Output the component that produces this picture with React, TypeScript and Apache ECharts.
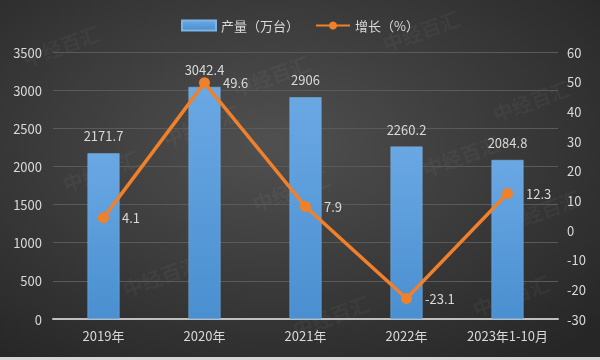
import React, { useEffect, useRef } from "react";
import * as echarts from "echarts";

const categories = ["2019年", "2020年", "2021年", "2022年", "2023年1-10月"];
const production = [2171.7, 3042.4, 2906, 2260.2, 2084.8];
const growth = [4.1, 49.6, 7.9, -23.1, 12.3];
const legendNames = ["产量（万台）", "增长（%）"];

const watermarks: [number, number][] = [
  [20, 50], [230, 80], [380, 35], [500, 215], [60, 175], [250, 195],
  [420, 160], [120, 280], [290, 320], [470, 300], [490, 105], [160, 130],
];

export default function App() {
  const ref = useRef<HTMLDivElement>(null);
  useEffect(() => {
    if (!ref.current) return;
    const chart = echarts.init(ref.current, undefined, { renderer: "svg" });
    const font = "'Microsoft YaHei', 'Noto Sans CJK SC', sans-serif";
    const textColor = "#d9d9d9";
    chart.setOption({
      animation: false,
      backgroundColor: {
        type: "radial",
        x: 0.45,
        y: 0.4,
        r: 0.75,
        colorStops: [
          { offset: 0, color: "#505050" },
          { offset: 1, color: "#262626" },
        ],
      },
      textStyle: { fontFamily: font },
      graphic: [
        ...watermarks.map(([x, y]) => ({
          type: "text",
          x,
          y,
          rotation: 0.35,
          silent: true,
          z: 0,
          style: {
            text: "中经百汇",
            fill: "rgba(255,255,255,0.04)",
            font: "bold 20px 'Noto Sans CJK SC', sans-serif",
          },
        })),
        {
          type: "rect",
          left: 0,
          top: 357,
          shape: { width: 600, height: 3 },
          style: { fill: "#d6d6d6" },
          silent: true,
        },
      ],
      legend: {
        top: 14,
        left: "center",
        itemGap: 16,
        itemWidth: 34,
        itemHeight: 10,
        textStyle: { color: textColor, fontSize: 13, fontFamily: font },
        data: [{ name: legendNames[0], icon: "rect" }, { name: legendNames[1] }],
      },
      grid: { left: 53, right: 42, top: 52, bottom: 41 },
      xAxis: {
        type: "category",
        data: categories,
        axisTick: { show: false },
        axisLine: { lineStyle: { color: "#bfbfbf", width: 2 } },
        axisLabel: {
          color: textColor,
          fontSize: 13,
          margin: 10,
          interval: 0,
          fontFamily: font,
        },
      },
      yAxis: [
        {
          type: "value",
          min: 0,
          max: 3500,
          interval: 500,
          axisLine: { show: false },
          axisTick: { show: false },
          axisLabel: {
            color: textColor,
            fontSize: 13,
            margin: 11,
            fontFamily: font,
            formatter: (v: number) => String(v),
          },
          splitLine: { lineStyle: { color: "#5a5a5a", width: 1 } },
        },
        {
          type: "value",
          min: -30,
          max: 60,
          interval: 10,
          axisLine: { show: false },
          axisTick: { show: false },
          axisLabel: {
            color: textColor,
            fontSize: 13,
            margin: 9,
            fontFamily: font,
            formatter: (v: number) => String(v),
          },
          splitLine: { show: false },
        },
      ],
      series: [
        {
          name: legendNames[0],
          type: "bar",
          data: production,
          barWidth: 32,
          itemStyle: {
            color: {
              type: "linear",
              x: 0,
              y: 0,
              x2: 0,
              y2: 1,
              colorStops: [
                { offset: 0, color: "#6aa8e4" },
                { offset: 1, color: "#4a8fd0" },
              ],
            },
            borderColor: "#7cb4e8",
            borderWidth: 0.5,
          },
          label: {
            show: true,
            position: "top",
            distance: 11,
            color: textColor,
            fontSize: 13,
            fontFamily: font,
          },
          z: 2,
        },
        {
          name: legendNames[1],
          type: "line",
          yAxisIndex: 1,
          data: growth,
          symbol: "circle",
          symbolSize: 11,
          lineStyle: { color: "#f0802a", width: 3.5 },
          itemStyle: { color: "#f0802a" },
          label: {
            show: true,
            position: "right",
            distance: 13,
            color: textColor,
            fontSize: 13,
            fontFamily: font,
          },
          z: 3,
        },
      ],
    });
    return () => chart.dispose();
  }, []);
  return (
    <div
      ref={ref}
      style={{ position: "fixed", left: 0, top: 0, width: 600, height: 360 }}
    />
  );
}
